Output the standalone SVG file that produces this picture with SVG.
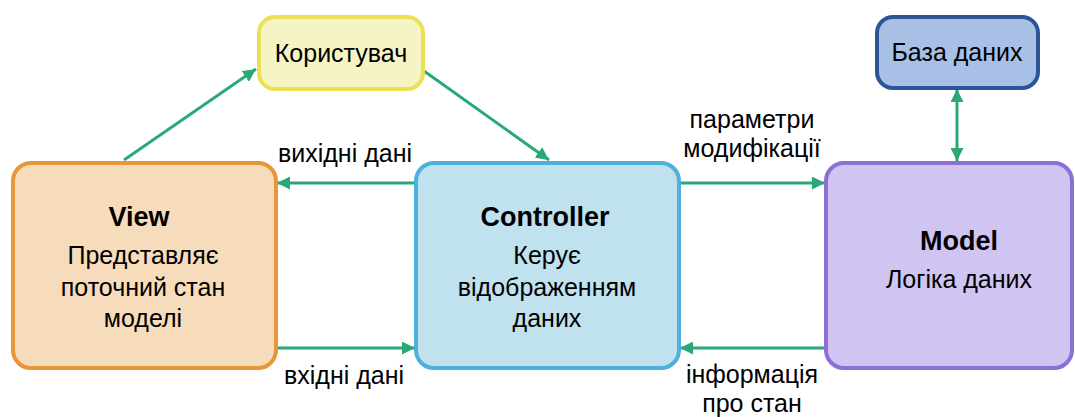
<svg xmlns="http://www.w3.org/2000/svg" width="1075" height="417" viewBox="0 0 1075 417">
<defs>
<marker id="ah" viewBox="0 0 13 13" refX="13" refY="6.5" markerWidth="13" markerHeight="13" markerUnits="userSpaceOnUse" orient="auto-start-reverse">
<path d="M0,0 L13,6.5 L0,13 Z" fill="#2AA876"/>
</marker>
<style>
.t{font-family:"Liberation Sans",Arial,sans-serif;font-size:25px;fill:#000;text-anchor:middle}
.b{font-family:"Liberation Sans",Arial,sans-serif;font-size:27px;font-weight:bold;fill:#000;text-anchor:middle}
.c{stroke:#2AA876;stroke-width:3;fill:none}
</style>
</defs>
<rect width="1075" height="417" fill="#fff"/>
<g id="connectors">
<line class="c" x1="124" y1="160" x2="256" y2="69" marker-end="url(#ah)"/>
<line class="c" x1="424" y1="71" x2="549" y2="160" marker-end="url(#ah)"/>
<line class="c" x1="415" y1="183" x2="277" y2="183" marker-end="url(#ah)"/>
<line class="c" x1="277" y1="348" x2="415" y2="348" marker-end="url(#ah)"/>
<line class="c" x1="680" y1="183" x2="825" y2="183" marker-end="url(#ah)"/>
<line class="c" x1="825" y1="348" x2="680" y2="348" marker-end="url(#ah)"/>
<line class="c" x1="957" y1="89" x2="957" y2="161" marker-start="url(#ah)" marker-end="url(#ah)"/>
<text class="t" x="345" y="162">вихідні дані</text>
<text class="t" x="344" y="384">вхідні дані</text>
<text class="t" x="752" y="128">параметри</text>
<text class="t" x="752" y="157">модифікації</text>
<text class="t" x="752" y="383">інформація</text>
<text class="t" x="752" y="412">про стан</text>
</g>
<g id="user">
<rect x="259" y="17" width="164" height="72" rx="16" fill="#F6F4C4" stroke="#EBE152" stroke-width="4"/>
<text class="t" x="341" y="62">Користувач</text>
</g>
<g id="db">
<rect x="877" y="17" width="161" height="71" rx="16" fill="#A8BFE6" stroke="#2B5597" stroke-width="4"/>
<text class="t" x="957" y="61">База даних</text>
</g>
<g id="view">
<rect x="13" y="163" width="263" height="205" rx="18" fill="#F7DCBC" stroke="#E8963A" stroke-width="4"/>
<text class="b" x="139" y="226">View</text>
<text class="t" x="143" y="264">Представляє</text>
<text class="t" x="143" y="296">поточний стан</text>
<text class="t" x="143" y="327">моделі</text>
</g>
<g id="controller">
<rect x="416" y="163" width="263" height="205" rx="18" fill="#C0E1EE" stroke="#4FB0DC" stroke-width="4"/>
<text class="b" x="545" y="226">Controller</text>
<text class="t" x="547" y="264">Керує</text>
<text class="t" x="547" y="296">відображенням</text>
<text class="t" x="547" y="327">даних</text>
</g>
<g id="model">
<rect x="826" y="163" width="246" height="205" rx="18" fill="#CFC4F2" stroke="#8E6FD4" stroke-width="4"/>
<text class="b" x="959" y="250">Model</text>
<text class="t" x="959" y="288">Логіка даних</text>
</g>
</svg>
